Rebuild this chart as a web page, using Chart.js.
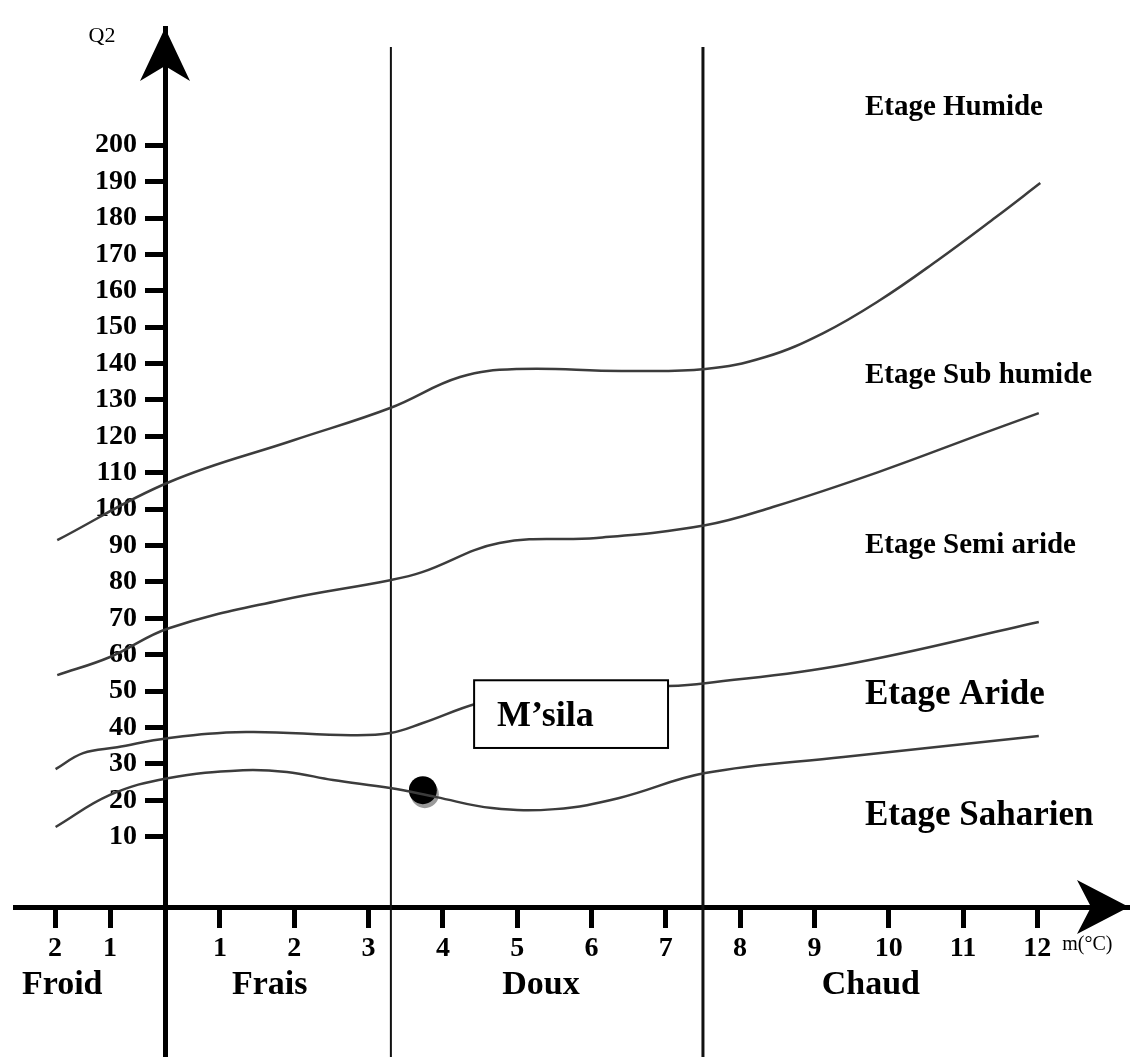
<!DOCTYPE html>
<html>
<head>
<meta charset="utf-8">
<script src="https://cdn.jsdelivr.net/npm/chart.js@4.4.1/dist/chart.umd.min.js"></script>
<style>
  body { margin: 0; background: #fff; }
  #wrap { width: 1143px; height: 1057px; }
</style>
</head>
<body>
<div id="wrap"><canvas id="climagramme" width="1143" height="1057"></canvas></div>
<script>
// Climagramme d'Emberger - M'sila
const xTickValues = [-2, -1, 1, 2, 3, 4, 5, 6, 7, 8, 9, 10, 11, 12];
const xTickLabels = ['2', '1', '1', '2', '3', '4', '5', '6', '7', '8', '9', '10', '11', '12'];
const yTickValues = [10, 20, 30, 40, 50, 60, 70, 80, 90, 100, 110, 120, 130, 140, 150, 160, 170, 180, 190, 200];

const zoneBounds = [3.3, 7.5];
const zoneNames = ['Froid', 'Frais', 'Doux', 'Chaud'];
const zoneLabelM = [-1.87, 1.67, 5.32, 9.76];

const stageNames = ['Etage Humide', 'Etage Sub humide', 'Etage Semi aride', 'Etage Aride', 'Etage Saharien'];
const stageLabelQ = [208.3, 134.6, 87.9, 46.5, 13.2];

// limites entre étages : m (°C) et Q2
const humideM = [-1.96, 0.07, 2.0, 3.29, 4.23, 5.0, 6.4, 7.53, 8.34, 9.12, 9.88, 10.66, 11.44, 12.04];
const humideQ = [91.5, 107.4, 119.0, 127.8, 136.3, 138.5, 138.0, 138.5, 141.8, 148.4, 157.4, 168.4, 180.2, 189.6];
const subHumideM = [-1.96, -1.0, 0.07, 1.82, 3.29, 3.72, 4.76, 6.07, 7.53, 8.44, 9.86, 11.28, 12.02];
const subHumideQ = [54.4, 59.4, 67.3, 75.0, 80.5, 82.7, 90.7, 92.1, 95.6, 100.6, 110.2, 120.9, 126.4];
const semiArideM = [-1.99, -1.49, -0.87, 0.05, 1.35, 2.76, 3.29, 3.72, 4.47, 5.17, 6.11, 7.03, 7.53, 9.39, 12.02];
const semiArideQ = [28.6, 33.0, 34.6, 37.1, 38.8, 37.9, 38.5, 41.2, 46.7, 49.5, 50.9, 51.4, 52.2, 57.2, 69.0];
const arideM = [-1.99, -1.0, 0.05, 1.31, 1.90, 2.52, 3.29, 3.91, 4.66, 5.51, 6.36, 7.53, 9.39, 12.02];
const arideQ = [12.7, 21.5, 26.1, 28.3, 27.8, 25.6, 23.4, 20.9, 17.9, 17.6, 20.6, 27.5, 31.9, 37.7];

const station = 'M\u2019sila';
const stationM = 3.73;
const stationQ = 22.8;

// l'axe des m est plus serré à gauche de 1
function toU(m) {
  return m < 1 ? m * 0.74 : m - 0.26;
}

function pts(ms, qs) {
  return ms.map((m, i) => ({x: toU(m), y: qs[i]}));
}

function curve(ms, qs) {
  return {
    data: pts(ms, qs),
    borderColor: '#3c3c3c',
    borderWidth: 2.5,
    pointRadius: 0,
    tension: 0.4,
    fill: false
  };
}

const sep = zoneBounds.map((m, i) => ({
  data: [{x: toU(m), y: 227}, {x: toU(m), y: -51}],
  borderColor: '#111',
  borderWidth: i == 0 ? 2 : 3,
  pointRadius: 0,
  tension: 0
}));

const serif = "'Liberation Serif', 'Times New Roman', serif";
Chart.defaults.font.family = serif;
Chart.defaults.color = '#000';

function noPad(scale) {
  scale.paddingTop = 0;
  scale.paddingBottom = 0;
  scale.paddingLeft = 0;
  scale.paddingRight = 0;
}

const decor = {
  id: 'decor',
  beforeDatasetDraw(chart, args) {
    if (args.index == 6) {
      const ctx = chart.ctx;
      ctx.save();
      ctx.shadowColor = '#9a9a9a';
      ctx.shadowOffsetX = 2;
      ctx.shadowOffsetY = 4;
    }
  },
  afterDatasetDraw(chart, args) {
    if (args.index == 6) chart.ctx.restore();
  },
  afterDatasetsDraw(chart) {
    const ctx = chart.ctx;
    const xs = chart.scales.x, ys = chart.scales.y;
    // cadre de la station
    const bx1 = xs.getPixelForValue(toU(4.42)), bx2 = xs.getPixelForValue(toU(7.03));
    const by1 = ys.getPixelForValue(53.0), by2 = ys.getPixelForValue(34.4);
    ctx.save();
    ctx.fillStyle = '#fff';
    ctx.fillRect(bx1, by1, bx2 - bx1, by2 - by1);
    ctx.strokeStyle = '#000';
    ctx.lineWidth = 2;
    ctx.strokeRect(bx1, by1, bx2 - bx1, by2 - by1);
    ctx.fillStyle = '#000';
    ctx.font = 'bold 36px ' + serif;
    ctx.textBaseline = 'alphabetic';
    ctx.fillText(station, bx1 + 23, by2 - 22);
    ctx.restore();
  },
  afterDraw(chart) {
    const ctx = chart.ctx;
    const xs = chart.scales.x, ys = chart.scales.y;
    const area = chart.chartArea;
    const x0 = xs.getPixelForValue(0);
    const yAx = ys.getPixelForValue(-9.3);
    ctx.save();
    ctx.fillStyle = '#000';
    // flèche verticale
    ctx.beginPath();
    ctx.moveTo(x0, area.top);
    ctx.lineTo(x0 + 25, area.top + 53);
    ctx.lineTo(x0, area.top + 38);
    ctx.lineTo(x0 - 25, area.top + 53);
    ctx.closePath();
    ctx.fill();
    // flèche horizontale
    const xt = area.right;
    ctx.beginPath();
    ctx.moveTo(xt, yAx);
    ctx.lineTo(xt - 52, yAx - 27);
    ctx.lineTo(xt - 38, yAx);
    ctx.lineTo(xt - 52, yAx + 27);
    ctx.closePath();
    ctx.fill();

    ctx.font = '22px ' + serif;
    ctx.textAlign = 'center';
    ctx.textBaseline = 'middle';
    ctx.fillText('Q2', x0 - 63, area.top + 8);
    ctx.textAlign = 'left';
    ctx.font = '20px ' + serif;
    ctx.fillText('m(°C)', xs.getPixelForValue(toU(12)) + 25, yAx + 38);

    ctx.font = 'bold 34px ' + serif;
    ctx.textAlign = 'center';
    zoneNames.forEach((n, i) => {
      ctx.fillText(n, xs.getPixelForValue(toU(zoneLabelM[i])), yAx + 78);
    });

    ctx.textAlign = 'left';
    ctx.textBaseline = 'alphabetic';
    stageNames.forEach((n, i) => {
      ctx.font = 'bold ' + (i < 3 ? 29 : 35) + 'px ' + serif;
      ctx.fillText(n, xs.getPixelForValue(toU(9.68)), ys.getPixelForValue(stageLabelQ[i]));
    });
    ctx.restore();
  }
};

new Chart(document.getElementById('climagramme'), {
  type: 'line',
  data: {
    datasets: [
      curve(humideM, humideQ),
      curve(subHumideM, subHumideQ),
      curve(semiArideM, semiArideQ),
      curve(arideM, arideQ),
      sep[0],
      sep[1],
      {
        data: [{x: toU(stationM), y: stationQ}],
        showLine: false,
        pointRadius: 14,
        pointBackgroundColor: '#000',
        pointBorderColor: '#000',
        pointBorderWidth: 0
      }
    ]
  },
  options: {
    responsive: false,
    animation: false,
    layout: {autoPadding: false, padding: {left: 15, right: 14, top: 28, bottom: 0}},
    plugins: {legend: {display: false}, tooltip: {enabled: false}},
    scales: {
      x: {
        type: 'linear',
        min: -2.019,
        max: 12.974,
        position: {y: -9.3},
        afterBuildTicks: s => { s.ticks = xTickValues.map(v => ({value: toU(v)})); },
        afterFit: noPad,
        ticks: {
          autoSkip: false,
          maxRotation: 0,
          padding: 7,
          font: {size: 28, weight: 'bold'},
          callback: (v, i) => xTickLabels[i]
        },
        grid: {drawOnChartArea: false, drawTicks: true, tickLength: 18, tickWidth: 5, tickColor: '#000'},
        border: {display: true, width: 5, color: '#000'}
      },
      y: {
        type: 'linear',
        min: -50.5,
        max: 232.2,
        position: {x: 0},
        afterBuildTicks: s => { s.ticks = yTickValues.map(v => ({value: v})); },
        afterFit: noPad,
        ticks: {
          autoSkip: false,
          font: {size: 28, weight: 'bold'},
          // les libellés s'arrêtent avant les graduations
          callback: v => v + '\u2002\u2002'
        },
        grid: {drawOnChartArea: false, drawTicks: true, tickLength: 18, tickWidth: 5, tickColor: '#000'},
        border: {display: true, width: 5, color: '#000'}
      }
    }
  },
  plugins: [decor]
});
</script>
</body>
</html>
